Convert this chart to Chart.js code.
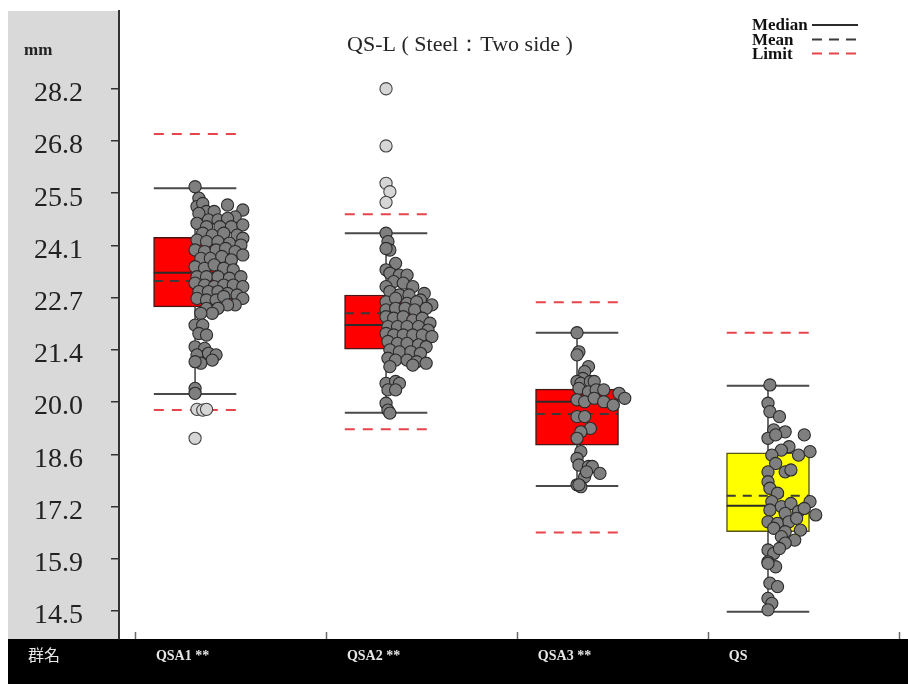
<!DOCTYPE html>
<html><head><meta charset="utf-8">
<script src="https://cdn.jsdelivr.net/npm/chart.js@4.4.1/dist/chart.umd.min.js"></script>
<style>html,body{margin:0;padding:0;background:#fff;}canvas{display:block;}</style>
</head><body>
<canvas id="c" width="908" height="684"></canvas>
<script>
// ---------- data ----------
const categories = ['QSA1 **', 'QSA2 **', 'QSA3 **', 'QS'];
const groupHeader = '群名';
const chartTitle = 'QS-L ( Steel：Two side )';
const unitLabel = 'mm';
const legendLabels = ['Median', 'Mean', 'Limit'];

const q1 = [22.48, 21.37, 18.85, 16.58];
const q3 = [24.30, 22.79, 20.32, 18.65];
const medians = [23.37, 22.00, 19.99, 17.26];
const means = [23.16, 22.31, 19.67, 17.52];
const whiskerLow = [20.19, 19.70, 17.78, 14.48];
const whiskerHigh = [25.59, 24.41, 21.80, 20.41];
const limitLow = [19.77, 19.27, 16.56, null];
const limitHigh = [27.01, 24.91, 22.60, 21.80];

const tickValues = [14.5, 15.87, 17.24, 18.61, 19.98, 21.35, 22.72, 24.09, 25.46, 26.83, 28.2];
const tickLabels = ['14.5', '15.9', '17.2', '18.6', '20.0', '21.4', '22.7', '24.1', '25.5', '26.8', '28.2'];

// individual measurements (mm) and their horizontal jitter (% of a category width)
const qsa1Values = [25.63,25.33,25.11,25.19,25.15,25.02,24.98,24.98,24.93,24.84,24.76,24.76,24.80,24.67,24.58,24.58,24.58,24.63,24.41,24.36,24.41,24.36,24.28,24.23,24.19,24.19,24.15,24.10,23.97,23.93,23.97,24.01,23.93,23.75,23.75,23.80,23.71,23.84,23.53,23.49,23.58,23.49,23.45,23.27,23.27,23.27,23.23,23.27,23.10,23.05,23.01,23.05,23.05,23.01,22.88,22.88,22.88,22.83,22.79,22.70,22.70,22.66,22.66,22.75,22.53,22.53,22.44,22.44,22.31,22.31,22.00,22.00,21.78,21.74,21.43,21.39,21.22,21.26,21.22,21.08,21.00,21.04,20.34,20.21];
const qsa1Jitter = [0,2,1,4,17,25,6,10,2,21,7,12,17,1,6,13,19,25,4,9,15,22,25,1,6,12,18,24,0,5,11,16,21,3,8,14,19,25,0,5,10,15,20,1,6,12,18,24,0,5,10,15,20,25,2,7,12,17,22,25,1,6,11,15,21,17,6,12,9,3,0,4,2,6,0,5,1,7,11,9,3,0,0,0];
const qsa1Outliers = [19.79, 19.77, 19.79, 19.03];
const qsa1OutlierJitter = [1, 4, 6, 0];

const qsa2Values = [24.41,24.19,23.97,24.01,23.62,23.45,23.36,23.31,23.31,23.14,23.10,23.01,23.01,22.88,22.79,22.79,22.83,22.53,22.66,22.61,22.70,22.57,22.61,22.40,22.44,22.44,22.40,22.44,22.22,22.18,22.22,22.13,22.18,22.05,21.96,21.96,21.96,21.96,21.87,21.78,21.74,21.74,21.74,21.74,21.70,21.57,21.52,21.52,21.48,21.43,21.35,21.30,21.30,21.26,21.13,21.08,21.08,21.04,21.00,20.91,20.95,20.47,20.52,20.47,20.30,20.30,19.95,19.77,19.69];
const qsa2Jitter = [0,1,2,0,5,0,2,7,11,4,9,14,0,2,7,12,20,24,18,0,5,11,16,0,5,10,15,21,0,4,9,14,19,23,1,6,11,17,22,0,4,9,14,19,24,1,6,11,17,21,2,7,13,18,1,5,11,16,21,2,14,0,5,7,1,5,0,1,2];
const qsa2Outliers = [28.20, 26.70, 25.72, 25.50, 25.22];
const qsa2OutlierJitter = [0, 0, 0, 2, 0];

const qsa3Values = [21.80,21.30,21.22,20.91,20.78,20.60,20.52,20.47,20.52,20.52,20.34,20.25,20.30,20.30,20.21,20.08,20.04,19.99,20.08,19.99,19.90,19.60,19.60,19.29,19.20,19.03,18.68,18.50,18.33,18.29,18.29,18.11,18.02,18.15,17.81,17.76,17.81];
const qsa3Jitter = [0,1,0,6,4,3,0,2,7,9,1,6,10,14,22,25,0,4,9,14,19,0,4,7,2,0,2,0,1,6,8,12,4,5,0,2,1];

const qsValues = [20.43,19.95,19.73,19.60,19.25,19.20,19.03,19.12,19.12,18.81,18.59,18.68,18.72,18.59,18.37,18.15,18.20,18.15,17.89,17.72,17.59,17.37,17.24,17.32,17.37,17.15,17.06,17.11,17.19,17.02,16.84,16.80,16.84,16.93,16.67,16.58,16.62,16.45,16.36,16.28,16.10,16.01,16.14,15.79,15.66,15.75,15.23,15.14,14.83,14.70,14.53];
const qsJitter = [1,0,1,6,3,9,0,4,19,11,16,22,7,2,4,9,12,0,0,1,5,2,7,12,22,1,9,16,19,25,0,5,11,15,3,9,17,7,14,9,0,3,6,0,4,0,1,5,0,2,0];

// ---------- layout constants ----------
const X_MIN = -16 / 192, X_MAX = 770 / 192;
const Y_MIN = 13.765, Y_MAX = 30.24;
const BOX_POS = 0.315, CAP = 0.216;
const cx = i => i + BOX_POS;

const pointGroups = [[qsa1Values, qsa1Jitter], [qsa2Values, qsa2Jitter], [qsa3Values, qsa3Jitter], [qsValues, qsJitter]];
const outlierGroups = [[qsa1Outliers, qsa1OutlierJitter], [qsa2Outliers, qsa2OutlierJitter], [[], []], [[], []]];

function capSegments(vals) {
  const out = [];
  vals.forEach((v, i) => {
    if (v == null) return;
    out.push({x: cx(i) - CAP, y: v}, {x: cx(i) + CAP, y: v}, {x: cx(i) + CAP, y: null});
  });
  return out;
}
function stems() {
  const out = [];
  categories.forEach((c, i) => {
    out.push({x: cx(i), y: whiskerLow[i]}, {x: cx(i), y: whiskerHigh[i]}, {x: cx(i), y: null});
  });
  return out;
}
function scatterData(groups) {
  const out = [];
  groups.forEach(([vals, jit], i) => vals.forEach((v, k) => out.push({x: cx(i) + jit[k] / 100, y: v})));
  return out;
}
const lineBase = {type: 'line', pointRadius: 0, pointHoverRadius: 0, fill: false, tension: 0, spanGaps: false, borderCapStyle: 'butt'};

const datasets = [
  {type: 'scatter', label: 'points', data: scatterData(pointGroups), pointRadius: 6.1, pointHoverRadius: 6.1,
   backgroundColor: '#7f7f7f', borderColor: '#2a2a2a', borderWidth: 1.1, order: 0},
  {type: 'scatter', label: 'outliers', data: scatterData(outlierGroups), pointRadius: 6.1, pointHoverRadius: 6.1,
   backgroundColor: '#d6d6d6', borderColor: '#444', borderWidth: 1.1, order: 0},
  Object.assign({}, lineBase, {label: 'Median', data: capSegments(medians), borderColor: '#2b2b2b', borderWidth: 2, order: 1}),
  Object.assign({}, lineBase, {label: 'Mean', data: capSegments(means), borderColor: '#3a3a3a', borderWidth: 2, borderDash: [9, 7], order: 1}),
  Object.assign({}, lineBase, {label: 'whiskers', data: capSegments(whiskerHigh).concat(capSegments(whiskerLow)), borderColor: '#4a4a4a', borderWidth: 2, order: 2}),
  {type: 'bar', label: 'box', data: categories.map((c, i) => ({x: cx(i), y: [q1[i], q3[i]]})),
   backgroundColor: ['#ff0000', '#ff0000', '#ff0000', '#ffff00'], borderColor: ['#4a1515', '#4a1515', '#4a1515', '#55551c'],
   borderWidth: 1.5, borderSkipped: false, barThickness: 83, order: 3},
  Object.assign({}, lineBase, {label: 'stems', data: stems(), borderColor: '#4a4a4a', borderWidth: 1.6, order: 4}),
  Object.assign({}, lineBase, {label: 'Limit', data: capSegments(limitHigh).concat(capSegments(limitLow)), borderColor: '#e8444c', borderWidth: 2, borderDash: [10, 8], order: 5})
];

const decor = {
  id: 'decor',
  beforeDraw(chart) {
    const {ctx, width, height, chartArea: a} = chart;
    ctx.save();
    ctx.fillStyle = '#ffffff'; ctx.fillRect(0, 0, width, height);
    ctx.fillStyle = '#d9d9d9'; ctx.fillRect(8, a.top, a.left - 8, a.bottom - a.top);
    ctx.fillStyle = '#000000'; ctx.fillRect(8, a.bottom, width - 8, height - a.bottom);
    ctx.restore();
  },
  afterDraw(chart) {
    const {ctx, chartArea: a, scales: {x}} = chart;
    ctx.save();
    // x tick marks
    ctx.strokeStyle = '#6a6a6a'; ctx.lineWidth = 1.5;
    for (let k = 0; k <= categories.length; k++) {
      const px = Math.round(x.getPixelForValue(k)) + 0.5;
      ctx.beginPath(); ctx.moveTo(px, a.bottom); ctx.lineTo(px, a.bottom - 7); ctx.stroke();
    }
    // category labels
    ctx.fillStyle = '#e6e6e6'; ctx.textAlign = 'left'; ctx.textBaseline = 'middle';
    ctx.font = 'bold 14px "Liberation Serif"';
    categories.forEach((c, k) => ctx.fillText(c, x.getPixelForValue(k) + 21, 656));
    ctx.font = '16px "Noto Sans CJK JP"';
    ctx.fillText(groupHeader, 28, 655);
    // unit
    ctx.fillStyle = '#222'; ctx.textBaseline = 'alphabetic';
    ctx.font = 'bold 17px "Liberation Serif"';
    ctx.fillText(unitLabel, 24, 55);
    // title
    ctx.fillStyle = '#262626'; ctx.textAlign = 'center';
    ctx.font = '22px "Liberation Serif"';
    ctx.fillText(chartTitle, 460, 51);
    // legend
    ctx.textAlign = 'left';
    ctx.font = 'bold 17px "Liberation Serif"';
    const ly = [25, 39.5, 53.5];
    const styles = [['#2b2b2b', []], ['#3a3a3a', [10, 7]], ['#e8444c', [10, 7]]];
    legendLabels.forEach((t, i) => {
      ctx.fillStyle = '#111';
      ctx.fillText(t, 752, ly[i] + 5);
      ctx.strokeStyle = styles[i][0]; ctx.lineWidth = 2; ctx.setLineDash(styles[i][1]);
      ctx.beginPath(); ctx.moveTo(812, ly[i]); ctx.lineTo(858, ly[i]); ctx.stroke();
    });
    ctx.setLineDash([]);
    ctx.restore();
  }
};

Chart.defaults.font.family = '"Liberation Serif"';
new Chart(document.getElementById('c'), {
  type: 'bar',
  data: {datasets},
  options: {
    responsive: false, animation: false, devicePixelRatio: 1, events: [],
    layout: {padding: {left: 0, right: 3, top: 11, bottom: 45}},
    plugins: {legend: {display: false}, tooltip: {enabled: false}, title: {display: false}},
    scales: {
      x: {type: 'linear', min: X_MIN, max: X_MAX, offset: false, display: false},
      y: {
        type: 'linear', min: Y_MIN, max: Y_MAX,
        afterBuildTicks: s => { s.ticks = tickValues.map(v => ({value: v})); },
        afterFit: s => { s.width = 119; s.paddingTop = 0; s.paddingBottom = 0; },
        ticks: {callback: (v, i) => tickLabels[i], font: {family: '"Liberation Serif"', size: 28}, color: '#222',
                padding: 28, labelOffset: 5, autoSkip: false},
        grid: {drawOnChartArea: false, drawTicks: true, tickLength: 8, color: '#333', lineWidth: 1.5},
        border: {display: true, color: '#333', width: 2}
      }
    }
  },
  plugins: [decor]
});
</script>
</body></html>
